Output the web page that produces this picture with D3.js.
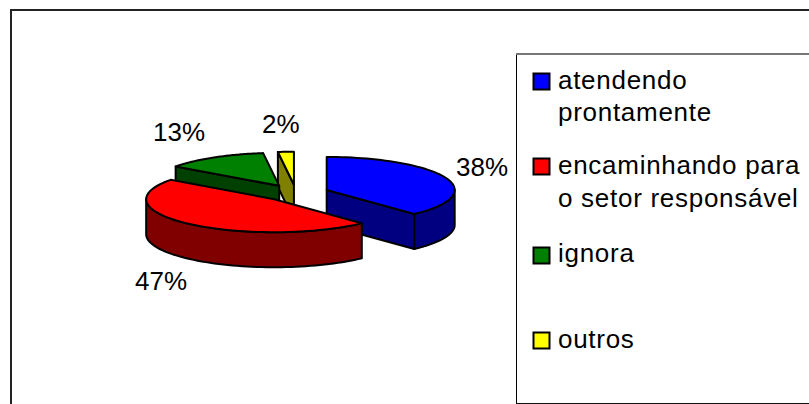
<!DOCTYPE html>
<html><head><meta charset="utf-8">
<script src="https://cdn.jsdelivr.net/npm/d3@7/dist/d3.min.js"></script>
<style>html,body{margin:0;padding:0;background:#fff}svg{display:block}text{font-family:"Liberation Sans",Arial,sans-serif;fill:#000}</style>
</head><body><svg id="c" width="809" height="404"></svg>
<script>
const categories = ["atendendo prontamente","encaminhando para o setor responsável","ignora","outros"];
const values = [38,47,13,2];
const labels = ["38%","47%","13%","2%"];
const topColors = ["#0000ff","#ff0000","#008000","#ffff00"];
const sideColors = ["#000080","#800000","#004000","#808000"];
const legendLines = [["atendendo","prontamente"],["encaminhando para","o setor responsável"],["ignora"],["outros"]];

const W=809,H=404, FS=26;
const svg=d3.select("#c");
// chart frame: top and left edges fall inside the picture, the others are cut off
svg.append("path").attr("d",`M11 ${H+2}V10H${W+2}`).attr("fill","none").attr("stroke","#222").attr("stroke-width",2);
// legend box
svg.append("path").attr("d",`M516.5 ${H}V54H${W}`).attr("fill","none").attr("stroke","#000").attr("stroke-width",1);
svg.append("line").attr("x1",516).attr("x2",W).attr("y1",54).attr("y2",54).attr("stroke","#777").attr("stroke-width",2);
svg.append("line").attr("x1",516).attr("x2",W).attr("y1",403.5).attr("y2",403.5).attr("stroke","#111").attr("stroke-width",1.2);

// projected, exploded 3D pie
const C={x:296,y:193}, RX=128, RY=33, EX=33, EY=8.3, DEPTH=35;
const pie=d3.pie().sort(null).value(d=>d).startAngle(0).endAngle(2*Math.PI);
const arcs=pie(values);
const proj=(cx,cy,a,r=1)=>[cx+RX*r*Math.sin(a), cy-RY*r*Math.cos(a)];
const sample=(a0,a1,n=60)=>d3.range(n+1).map(i=>a0+(a1-a0)*i/n);
const line=d3.line().curve(d3.curveLinear);
const g=svg.append("g").attr("stroke","#000").attr("stroke-width",2).attr("stroke-linejoin","round");

function drawSlice(i){
  const d=arcs[i], mid=(d.startAngle+d.endAngle)/2;
  const cx=C.x+EX*Math.sin(mid), cy=C.y-EY*Math.cos(mid);
  const apex=[cx,cy], down=p=>[p[0],p[1]+DEPTH];
  const s=proj(cx,cy,d.startAngle), e=proj(cx,cy,d.endAngle);
  const quad=(a,b)=>g.append("path").attr("d",line([a,b,down(b),down(a)])+"Z").attr("fill",sideColors[i]);
  // radial walls that face the viewer
  if(Math.cos(d.startAngle)>0 && Math.sin(d.startAngle)<0) quad(apex,s);
  if(Math.cos(d.endAngle)<0 && Math.sin(d.endAngle)>0) quad(apex,e);
  // outer wall on the near half of the ellipse
  const a0=Math.max(d.startAngle,Math.PI/2), a1=Math.min(d.endAngle,3*Math.PI/2);
  if(a1>a0){
    const top=sample(a0,a1).map(a=>proj(cx,cy,a));
    g.append("path").attr("d",line(top.concat(top.map(down).reverse()))+"Z").attr("fill",sideColors[i]);
  }
  // top face
  const rim=sample(d.startAngle,d.endAngle).map(a=>proj(cx,cy,a));
  g.append("path").attr("d",line([apex].concat(rim))+"Z").attr("fill",topColors[i]);
}
[3,2,0,1].forEach(drawSlice);

const labelPos=[[456,176],[135,290],[153,141],[262,133]];
svg.selectAll("text.l").data(labels).join("text").attr("class","l")
  .attr("x",(d,i)=>labelPos[i][0]).attr("y",(d,i)=>labelPos[i][1]).attr("font-size",FS).text(d=>d);

// legend
const markerY=[73.5,158.5,247.5,332.5];
const baseY=[[89,121],[174,207],[262],[348]];
categories.forEach((c,i)=>{
  svg.append("rect").attr("x",533.5).attr("y",markerY[i]).attr("width",16).attr("height",16)
    .attr("fill",topColors[i]).attr("stroke","#000").attr("stroke-width",2);
  legendLines[i].forEach((t,j)=>svg.append("text").attr("x",558).attr("y",baseY[i][j]).attr("font-size",FS).attr("letter-spacing",0.72).text(t));
});
</script></body></html>
